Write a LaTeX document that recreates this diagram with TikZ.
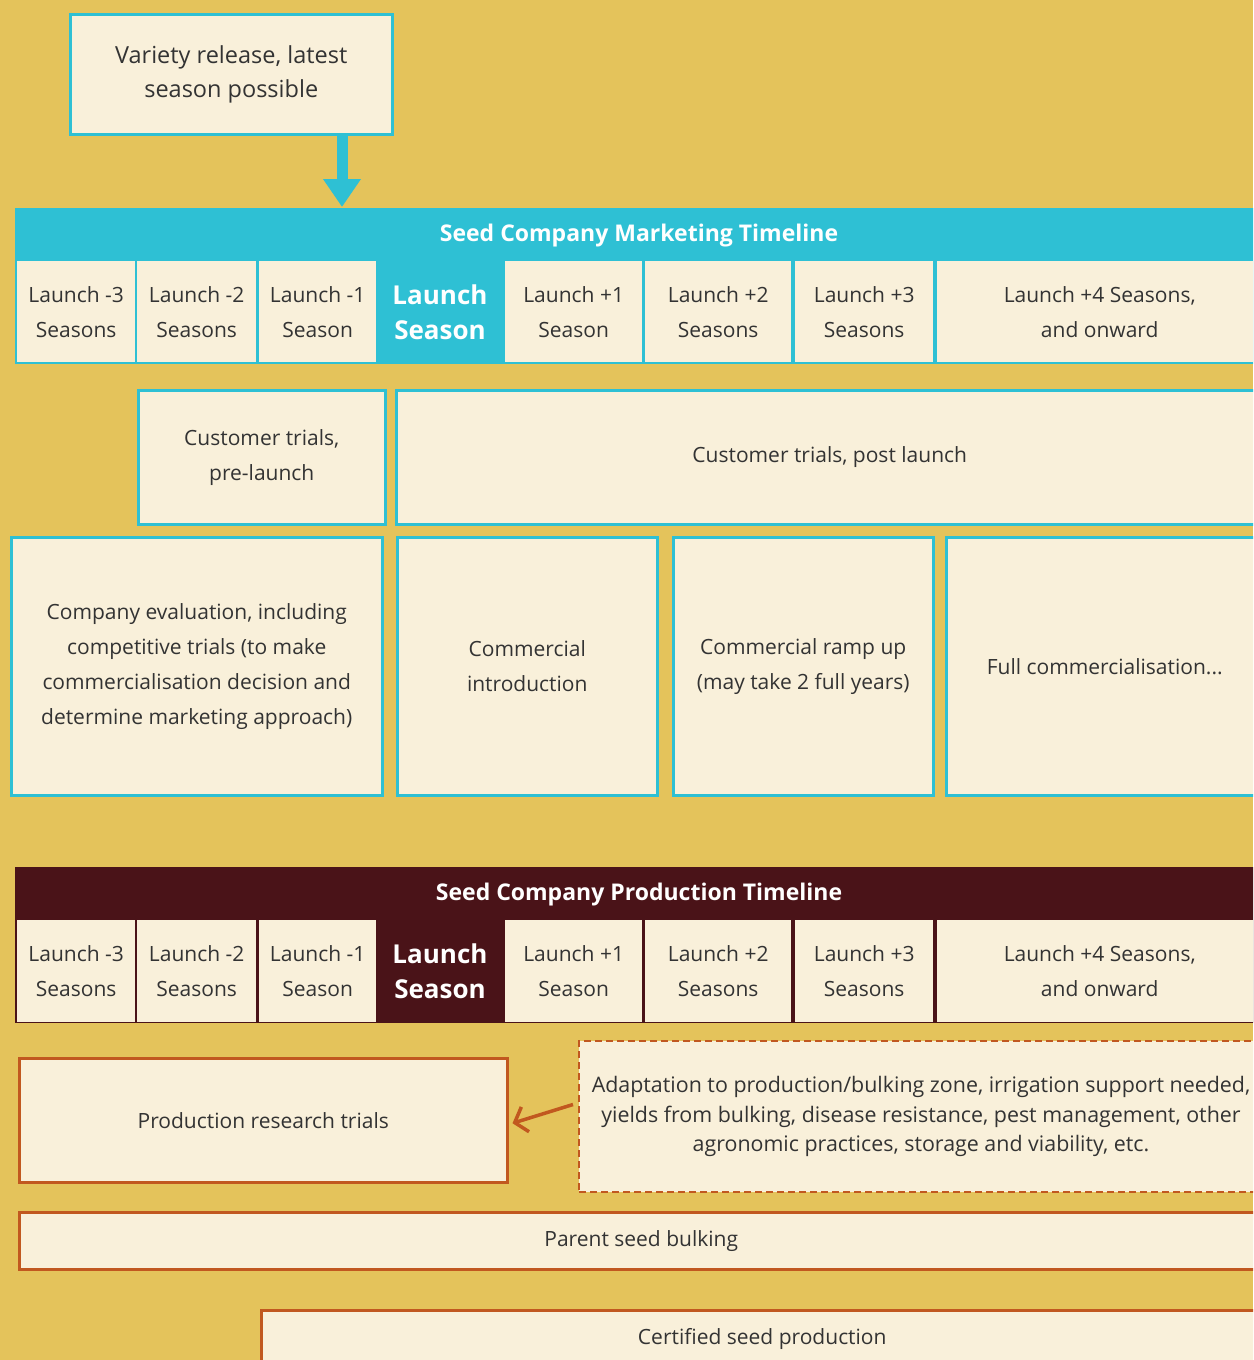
\documentclass[tikz,border=0pt]{standalone}
\usepackage{fontspec}
\setmainfont{Open Sans}
\usepackage{tikz}
\usetikzlibrary{arrows.meta}
\definecolor{mustard}{HTML}{E4C35B}
\definecolor{cream}{HTML}{F9F0DA}
\definecolor{seedcyan}{HTML}{2EC0D4}
\definecolor{prodred}{HTML}{4A1318}
\definecolor{rust}{HTML}{C1581F}
\definecolor{ink}{HTML}{333333}
\newcommand{\bodyfont}{\fontsize{21}{35}\selectfont}

\begin{document}
\begin{tikzpicture}[x=1pt, y=-1pt,
  cell/.style={fill=cream, text=ink, align=center, anchor=north west, inner sep=0pt, font=\bodyfont},
  mbox/.style={cell, draw=seedcyan, line width=2.5pt},
  pbox/.style={cell, draw=rust, line width=2.5pt},
  title/.style={text=white, font=\bfseries\fontsize{23}{28}\selectfont},
  launch/.style={text=white, align=center, font=\bfseries\fontsize{26}{35}\selectfont}]
	\useasboundingbox (0,0) rectangle (1253,1360);
	\fill[mustard] (0,0) rectangle (1253,1360);
	\clip (0,0) rectangle (1253,1360);
	% marketing
	\node[mbox, minimum width=322, minimum height=120, font=\fontsize{23.5}{34}\selectfont] (var) at (69,13) {Variety release, latest\\season possible};
	\coordinate (vtip) at (342,207);
	\draw[seedcyan, line width=11pt, -{Triangle[length=28pt,width=36pt]}] (var.south -| vtip) -- (vtip);
	\fill[seedcyan] (15,208) rectangle (1262,364);
	\node[title] (mhead) at (639,236) {Seed Company Marketing Timeline};
	\node[cell, minimum width=118, minimum height=101] (m1) at (17,261) {Launch -3\\Seasons};
	\node[cell, minimum width=119, minimum height=101] (m2) at (137,261) {Launch -2\\Seasons};
	\node[cell, minimum width=117, minimum height=101] (m3) at (259,261) {Launch -1\\Season};
	\node[launch] (m4) at (440,312) {Launch\\Season};
	\node[cell, minimum width=137, minimum height=101] (m5) at (505,261) {Launch +1\\Season};
	\node[cell, minimum width=146, minimum height=101] (m6) at (645,261) {Launch +2\\Seasons};
	\node[cell, minimum width=138, minimum height=101] (m7) at (795,261) {Launch +3\\Seasons};
	\node[cell, minimum width=325, minimum height=101] (m8) at (937,261) {Launch +4 Seasons,\\and onward};
	\node[mbox, minimum width=247, minimum height=134] (pre) at (137,389) {Customer trials,\\pre-launch};
	\node[mbox, minimum width=867, minimum height=134] (post) at (395,389) {Customer trials, post launch};
	\node[mbox, minimum width=371, minimum height=258] (eval) at (10,536) {Company evaluation, including\\competitive trials (to make\\commercialisation decision and\\determine marketing approach)};
	\node[mbox, minimum width=260, minimum height=258] (intro) at (396,536) {Commercial\\introduction};
	\node[mbox, minimum width=260, minimum height=258] (ramp) at (672,536) {Commercial ramp up\\(may take 2 full years)};
	\node[mbox, minimum width=317, minimum height=258] (full) at (945,536) {Full commercialisation...};
	% production
	\fill[prodred] (15,867) rectangle (1262,1023);
	\node[title] (phead) at (639,895) {Seed Company Production Timeline};
	\node[cell, minimum width=118, minimum height=102] (p1) at (17,920) {Launch -3\\Seasons};
	\node[cell, minimum width=119, minimum height=102] (p2) at (137,920) {Launch -2\\Seasons};
	\node[cell, minimum width=117, minimum height=102] (p3) at (259,920) {Launch -1\\Season};
	\node[launch] (p4) at (440,971) {Launch\\Season};
	\node[cell, minimum width=137, minimum height=102] (p5) at (505,920) {Launch +1\\Season};
	\node[cell, minimum width=146, minimum height=102] (p6) at (645,920) {Launch +2\\Seasons};
	\node[cell, minimum width=138, minimum height=102] (p7) at (795,920) {Launch +3\\Seasons};
	\node[cell, minimum width=325, minimum height=102] (p8) at (937,920) {Launch +4 Seasons,\\and onward};
	\node[pbox, minimum width=488, minimum height=124] (prt) at (18,1057) {Production research trials};
	\node[pbox, line width=2pt, dash pattern=on 7pt off 4pt, minimum width=684, minimum height=151, font=\fontsize{21.4}{29.5}\selectfont] (adapt) at (578,1040) {Adaptation to production/bulking zone, irrigation support needed,\\yields from bulking, disease resistance, pest management, other\\agronomic practices, storage and viability, etc.};
	\draw[rust, line width=3.5pt, -{Straight Barb[length=11pt,width=26pt]}] ([xshift=-5,yshift=12]adapt.west) -- ([xshift=4,yshift=-3]prt.east);
	\node[pbox, minimum width=1244, minimum height=57] (bulk) at (18,1211) {Parent seed bulking};
	\node[pbox, minimum width=1002, minimum height=58] (cert) at (260,1309) {Certified seed production};
\end{tikzpicture}
\end{document}
